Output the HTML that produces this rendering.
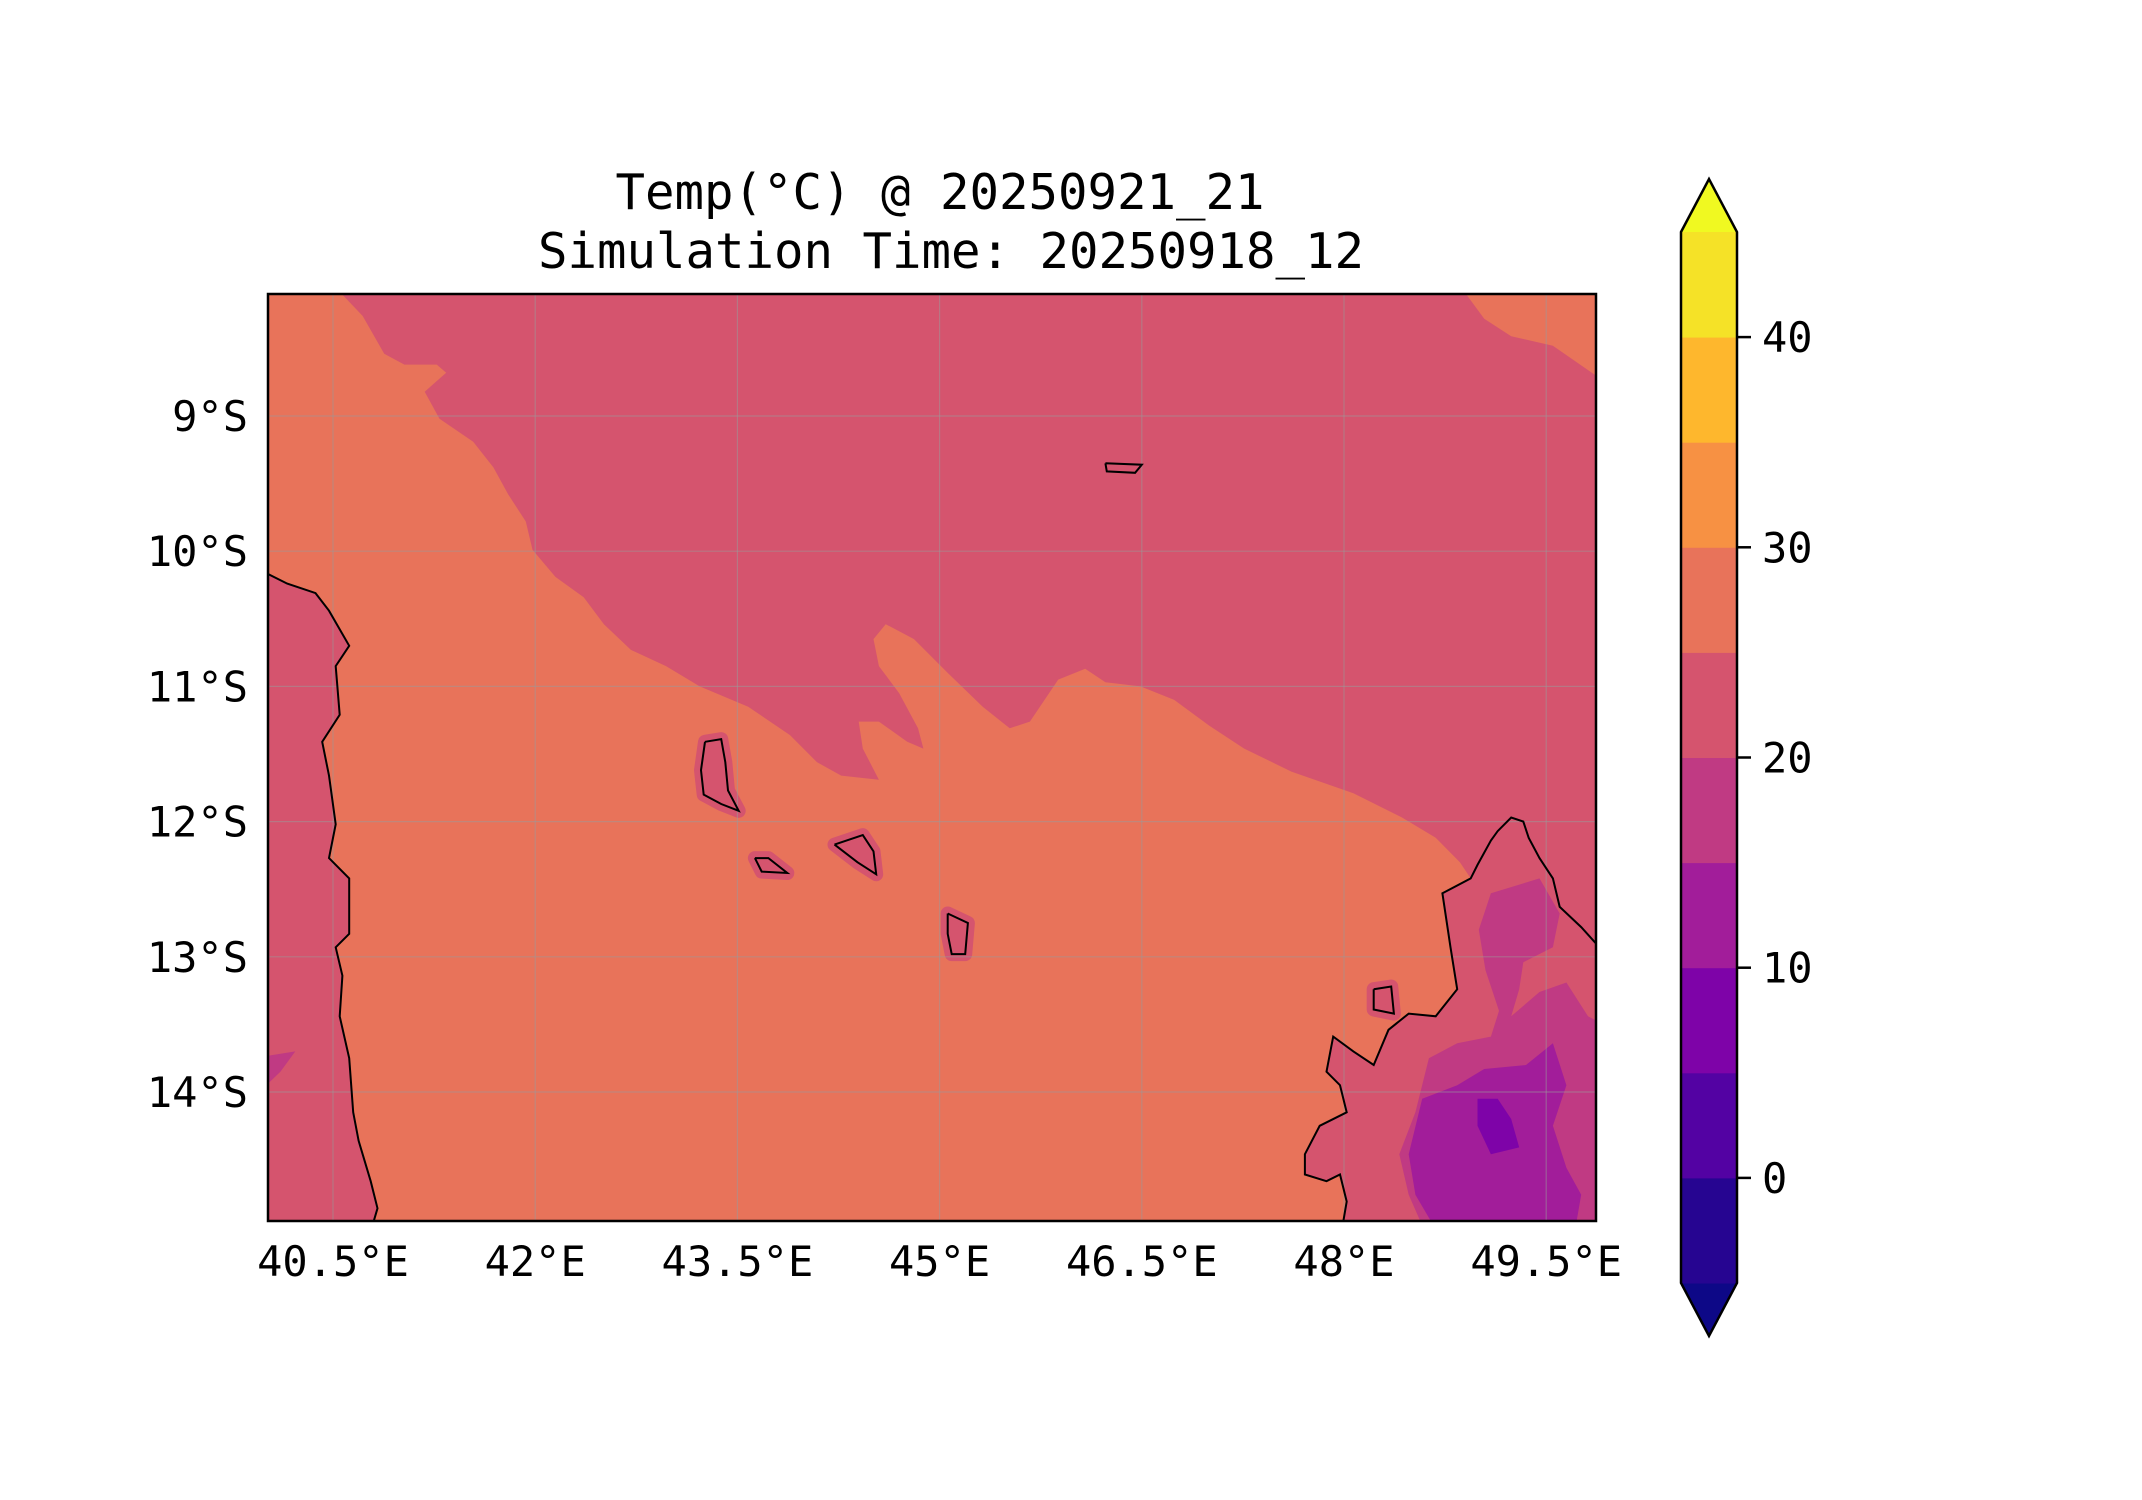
<!DOCTYPE html>
<html><head><meta charset="utf-8"><style>
html,body{margin:0;padding:0;background:#fff;}
svg{display:block;font-family:"DejaVu Sans Mono","Liberation Mono",monospace;}
</style></head><body>
<svg id="chart" width="2142" height="1500" viewBox="0 0 2142 1500" xmlns="http://www.w3.org/2000/svg">
<rect width="2142" height="1500" fill="#fff"/>
<text x="940" y="209" font-size="49" text-anchor="middle">Temp(°C) @ 20250921_21</text>
<text x="951" y="268" font-size="49" text-anchor="middle">Simulation Time: 20250918_12</text>
<defs><clipPath id="mapclip"><rect x="268" y="294" width="1328" height="927"/></clipPath></defs>
<g id="map" clip-path="url(#mapclip)"></g>
<g id="grid"></g>
<g id="coast" clip-path="url(#mapclip)"></g>
<rect x="268" y="294" width="1328" height="927" fill="none" stroke="#000" stroke-width="2.5"/>
<g id="axes"></g>
<g id="cbar"></g>
</svg>
<script>
const xTicks=[40.5,42,43.5,45,46.5,48,49.5];
const yTicks=[9,10,11,12,13,14];
const cbLevels=[-5,0,5,10,15,20,25,30,35,40,45];
const cbColors=["#260591","#5302a3","#7e03a8","#a21d9a","#c03a83","#d5546e","#e8735a","#f79143","#feb72d","#f5e227"];
const cbTicks=[0,10,20,30,40];
const extendLow="#0d0887", extendHigh="#f0f921";
const bgLevelColor="#e8735a";
// contour polygons [lon, latSouth]
const band20_25_main=[[40.52,8.05],[40.72,8.26],[40.88,8.54],[41.03,8.62],[41.27,8.62],[41.34,8.68],[41.18,8.82],[41.29,9.02],[41.54,9.19],[41.69,9.38],[41.80,9.58],[41.93,9.78],[41.98,9.99],[42.15,10.19],[42.36,10.34],[42.51,10.54],[42.71,10.73],[42.97,10.85],[43.22,11.0],[43.58,11.15],[43.89,11.36],[44.09,11.56],[44.27,11.66],[44.55,11.69],[44.43,11.46],[44.40,11.26],[44.55,11.26],[44.76,11.41],[44.88,11.46],[44.84,11.31],[44.70,11.05],[44.55,10.85],[44.51,10.65],[44.60,10.54],[44.81,10.65],[45.06,10.90],[45.32,11.15],[45.52,11.31],[45.67,11.26],[45.88,10.95],[46.08,10.87],[46.23,10.97],[46.49,11.0],[46.74,11.10],[47.0,11.29],[47.26,11.46],[47.61,11.63],[48.07,11.79],[48.43,11.97],[48.68,12.12],[48.86,12.30],[48.94,12.42],[48.73,12.53],[48.79,12.93],[48.84,13.24],[48.68,13.44],[48.48,13.42],[48.33,13.54],[48.22,13.80],[48.07,13.70],[47.92,13.59],[47.87,13.85],[47.97,13.95],[48.02,14.15],[47.82,14.25],[47.71,14.46],[47.71,14.61],[47.87,14.66],[47.97,14.61],[48.02,14.81],[47.97,15.1],[50.1,15.1],[50.1,8.75],[49.94,8.75],[49.55,8.48],[49.24,8.41],[49.04,8.28],[48.87,8.05]];
const band20_25_west=[[39.9,10.17],[40.02,10.17],[40.16,10.24],[40.37,10.31],[40.47,10.44],[40.62,10.70],[40.52,10.85],[40.55,11.21],[40.42,11.41],[40.47,11.66],[40.52,12.02],[40.47,12.27],[40.62,12.42],[40.62,12.83],[40.52,12.93],[40.57,13.14],[40.55,13.44],[40.62,13.75],[40.65,14.15],[40.69,14.36],[40.78,14.66],[40.83,14.86],[40.76,15.1],[39.9,15.1]];
const band15_20=[[49.09,12.53],[49.45,12.42],[49.60,12.68],[49.55,12.93],[49.33,13.04],[49.30,13.24],[49.24,13.44],[49.45,13.26],[49.65,13.19],[49.81,13.44],[50.1,13.59],[50.1,15.1],[48.63,15.1],[48.48,14.76],[48.41,14.46],[48.53,14.15],[48.63,13.75],[48.84,13.64],[49.09,13.59],[49.15,13.40],[49.05,13.1],[49.0,12.8]];
const band15_20_west=[[39.9,13.75],[40.22,13.70],[40.11,13.85],[39.9,14.05]];
const band10_15=[[48.58,14.05],[48.84,13.95],[49.04,13.83],[49.35,13.80],[49.55,13.64],[49.65,13.95],[49.55,14.25],[49.65,14.56],[49.76,14.76],[49.70,15.1],[48.73,15.1],[48.53,14.76],[48.48,14.46]];
const band5_10=[[48.99,14.05],[49.14,14.05],[49.24,14.20],[49.30,14.41],[49.09,14.46],[48.99,14.25]];
const islands=[
 [[43.26,11.41],[43.38,11.39],[43.41,11.56],[43.43,11.77],[43.51,11.92],[43.38,11.87],[43.25,11.80],[43.23,11.62],[43.26,11.41]],
 [[43.63,12.27],[43.73,12.27],[43.87,12.38],[43.68,12.37],[43.63,12.27]],
 [[44.22,12.17],[44.43,12.10],[44.51,12.22],[44.53,12.39],[44.39,12.30],[44.22,12.17]],
 [[45.06,12.68],[45.21,12.75],[45.19,12.98],[45.09,12.98],[45.06,12.83],[45.06,12.68]],
 [[46.23,9.35],[46.50,9.36],[46.45,9.42],[46.24,9.41],[46.23,9.35]],
 [[48.22,13.24],[48.35,13.22],[48.37,13.42],[48.22,13.39],[48.22,13.24]]];
const coastAfrica=band20_25_west.slice(1,23);
const coastMada=[[50.05,13.05],[49.94,12.98],[49.76,12.78],[49.60,12.63],[49.55,12.42],[49.45,12.27],[49.37,12.12],[49.33,12.0],[49.24,11.97],[49.14,12.07],[49.09,12.14],[48.99,12.32],[48.94,12.42],[48.73,12.53],[48.79,12.93],[48.84,13.24],[48.68,13.44],[48.48,13.42],[48.33,13.54],[48.22,13.80],[48.07,13.70],[47.92,13.59],[47.87,13.85],[47.97,13.95],[48.02,14.15],[47.82,14.25],[47.71,14.46],[47.71,14.61],[47.87,14.66],[47.97,14.61],[48.02,14.81],[47.97,15.1]];

const NS="http://www.w3.org/2000/svg";
function xS(lon){return 333+(lon-40.5)*134.8;}
function yS(lat){return 416+(lat-9)*135.2;}
function pts(a){return a.map(p=>xS(p[0]).toFixed(1)+","+yS(p[1]).toFixed(1)).join(" ");}
function mk(tag,attrs,parent){const e=document.createElementNS(NS,tag);for(const k in attrs)e.setAttribute(k,attrs[k]);parent.appendChild(e);return e;}
const map=document.getElementById("map");
let bg=mk("rect",{x:268,y:294,width:1328,height:927,fill:bgLevelColor},map);


[[band20_25_main,5,'band-20-25-ocean'],[band20_25_west,5,'band-20-25-west'],[band15_20,4,'band-15-20'],[band15_20_west,4,'band-15-20-west'],[band10_15,3,'band-10-15'],[band5_10,2,'band-5-10']].forEach(b=>{
 const p=mk("polygon",{points:pts(b[0]),fill:cbColors[b[1]]},map);
 
 
});
islands.forEach(is=>{
 const p=mk("polygon",{points:pts(is),fill:cbColors[5],stroke:cbColors[5],"stroke-width":14,"stroke-linejoin":"round"},map);
 
 
});
const grid=document.getElementById("grid");
xTicks.forEach(v=>{const l=mk("line",{x1:xS(v),x2:xS(v),y1:294,y2:1221,stroke:"#999","stroke-width":1.2,"stroke-opacity":0.5},grid);
 
 });
yTicks.forEach(v=>{const l=mk("line",{x1:268,x2:1596,y1:yS(v),y2:yS(v),stroke:"#999","stroke-width":1.2,"stroke-opacity":0.5},grid);
 
 });
const coast=document.getElementById("coast");
[coastAfrica,coastMada].concat(islands).forEach(c=>{
 const l=mk("polyline",{points:pts(c),fill:"none",stroke:"#000","stroke-width":2},coast);
 
 
});
const axes=document.getElementById("axes");
xTicks.forEach(v=>{const t=mk("text",{x:xS(v),y:1276,"font-size":42,"text-anchor":"middle"},axes);t.textContent=v+"°E";
 
 });
yTicks.forEach(v=>{const t=mk("text",{x:248,y:yS(v)+15,"font-size":42,"text-anchor":"end"},axes);t.textContent=v+"°S";
 
 });
// colorbar
const cb=document.getElementById("cbar");
const cx0=1681,cx1=1737,cTop=232,cBot=1283,tipT=179,tipB=1336;
function cy(v){return cBot-(v-cbLevels[0])/(cbLevels[cbLevels.length-1]-cbLevels[0])*(cBot-cTop);}
let tu=mk("polygon",{points:`${cx0},${cTop} ${(cx0+cx1)/2},${tipT} ${cx1},${cTop}`,fill:extendHigh},cb);


let td=mk("polygon",{points:`${cx0},${cBot} ${(cx0+cx1)/2},${tipB} ${cx1},${cBot}`,fill:extendLow},cb);


for(let i=0;i<cbColors.length;i++){
 const r=mk("rect",{x:cx0,y:cy(cbLevels[i+1]),width:cx1-cx0,height:cy(cbLevels[i])-cy(cbLevels[i+1])+0.5,fill:cbColors[i]},cb);
 
 
}
let ol=mk("polygon",{points:`${cx0},${cTop} ${(cx0+cx1)/2},${tipT} ${cx1},${cTop} ${cx1},${cBot} ${(cx0+cx1)/2},${tipB} ${cx0},${cBot}`,fill:"none",stroke:"#000","stroke-width":2.5},cb);


cbTicks.forEach(v=>{
 const l=mk("line",{x1:cx1,x2:cx1+14,y1:cy(v),y2:cy(v),stroke:"#000","stroke-width":2.5},cb);
 
 
 const t=mk("text",{x:cx1+25,y:cy(v)+15,"font-size":42},cb);t.textContent=v;
 
 
});
</script>
</body></html>
